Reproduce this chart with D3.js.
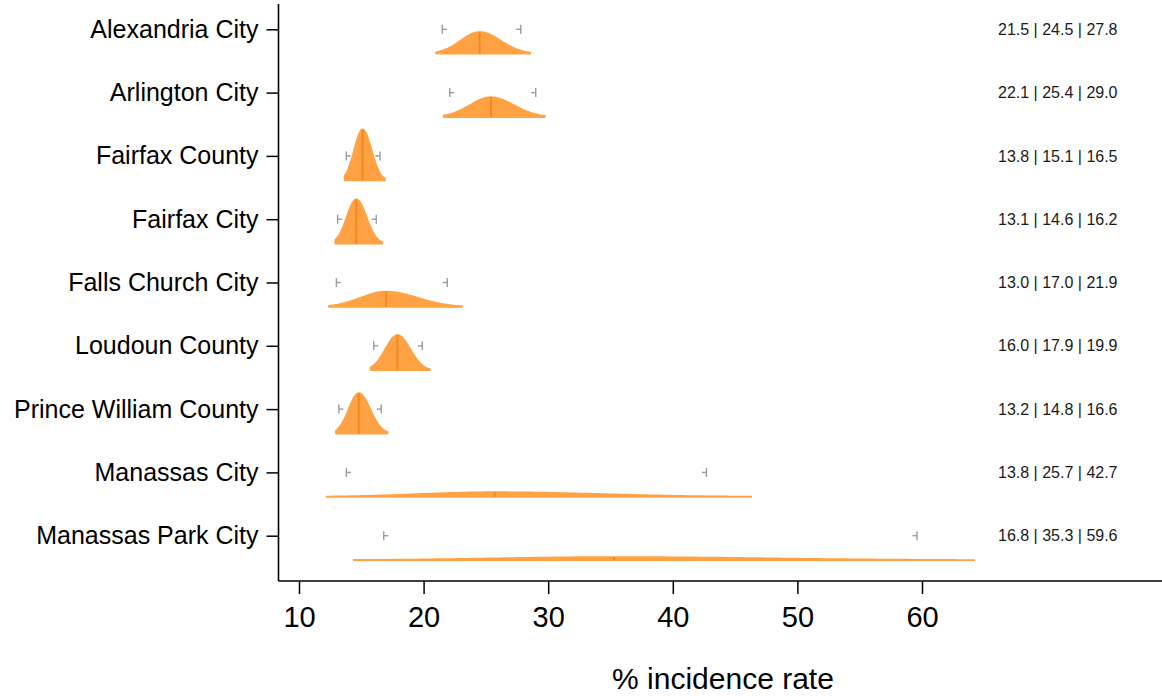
<!DOCTYPE html>
<html lang="en">
<head>
    <meta charset="UTF-8">
    <title>% incidence rate by locality</title>
    <style>
        body { margin: 0; background: #fff; }
        svg { font-family: Arial, "Liberation Sans", sans-serif; }
        .ylab text { font-size: 25px; fill: #000; }
        .xlab text { font-size: 29px; fill: #000; }
        .tick line { stroke: #000; stroke-width: 1.5px; }
    </style>
</head>
<body>
    <svg id="chart" width="1162" height="696"></svg>
    <script src="https://d3js.org/d3.v7.min.js"></script>
    <script>
        // values
        var localities = ["Alexandria City", "Arlington City", "Fairfax County", "Fairfax City",
                          "Falls Church City", "Loudoun County", "Prince William County",
                          "Manassas City", "Manassas Park City"];
        var lower  = [21.5, 22.1, 13.8, 13.1, 13.0, 16.0, 13.2, 13.8, 16.8];
        var median = [24.5, 25.4, 15.1, 14.6, 17.0, 17.9, 14.8, 25.7, 35.3];
        var upper  = [27.8, 29.0, 16.5, 16.2, 21.9, 19.9, 16.6, 42.7, 59.6];
        // extent of each density shape (min / max of the draws)
        var shapeMin = [21.0, 21.6, 13.65, 12.9, 12.4, 15.75, 12.95, 12.2, 14.4];
        var shapeMax = [28.55, 29.75, 16.9, 16.7, 23.1, 20.5, 17.1, 46.3, 64.2];
        var xTicks = [10, 20, 30, 40, 50, 60];

        var svg = d3.select("#chart");

        var x = d3.scaleLinear().domain([10, 60]).range([299, 922]);
        var y = d3.scalePoint().domain(localities).range([29.3, 535.7]);

        var axisX = 278.5, axisY = 581;
        var densScale = 88;   // px per unit of density
        var baseOff = 24.5;   // shape baseline below the category line

        // split normal built from the interval, shape of the posterior
        function dens(i, v) {
            var s1 = (median[i] - lower[i]) / 1.96,
                s2 = (upper[i] - median[i]) / 1.96;
            var s = v < median[i] ? s1 : s2;
            var z = (v - median[i]) / s;
            return 2 / ((s1 + s2) * Math.sqrt(2 * Math.PI)) * Math.exp(-0.5 * z * z);
        }

        var rows = localities.map(function(d, i) { return i; });

        var area = d3.area()
            .x(function(p) { return x(p.v); })
            .y0(function(p) { return p.base; })
            .y1(function(p) { return p.base - densScale * p.d; });

        var g = svg.append("g");

        rows.forEach(function(i) {
            var base = y(localities[i]) + baseOff;
            var pts = d3.range(0, 121).map(function(k) {
                var v = shapeMin[i] + (shapeMax[i] - shapeMin[i]) * k / 120;
                return { v: v, d: dens(i, v), base: base };
            });
            g.append("path")
                .attr("d", area(pts))
                .attr("fill", "#ffa243")
                .attr("stroke", "#ffa243")
                .attr("stroke-width", 1.6)
                .attr("stroke-linejoin", "round");

            // median line
            g.append("line")
                .attr("x1", x(median[i])).attr("x2", x(median[i]))
                .attr("y1", base)
                .attr("y2", base - densScale * dens(i, median[i]))
                .attr("stroke", "#f5861c")
                .attr("stroke-width", 1.8);

            // interval ends
            var cy = y(localities[i]);
            [[lower[i], 1], [upper[i], -1]].forEach(function(e) {
                var ex = x(e[0]);
                g.append("line")
                    .attr("x1", ex).attr("x2", ex)
                    .attr("y1", cy - 4.5).attr("y2", cy + 4.5)
                    .attr("stroke", "#9b9b9b").attr("stroke-width", 1.4);
                g.append("line")
                    .attr("x1", ex).attr("x2", ex + 4.5 * e[1])
                    .attr("y1", cy).attr("y2", cy)
                    .attr("stroke", "#9b9b9b").attr("stroke-width", 1.4);
            });

            // text on the right
            svg.append("text")
                .attr("x", 998)
                .attr("y", cy)
                .attr("dy", "0.35em")
                .style("font-size", "16px")
                .style("fill", "#1a1a1a")
                .text(lower[i].toFixed(1) + " | " + median[i].toFixed(1) + " | " + upper[i].toFixed(1));
        });

        // Y axis
        svg.append("g")
            .attr("class", "ylab")
            .attr("transform", "translate(" + axisX + ",0)")
            .call(d3.axisLeft(y).tickSize(12).tickPadding(8))
            .call(function(a) { a.select(".domain").remove(); });

        svg.append("line")
            .attr("x1", axisX).attr("x2", axisX)
            .attr("y1", 4).attr("y2", axisY)
            .attr("stroke", "#000").attr("stroke-width", 1.6);

        // X axis
        svg.append("g")
            .attr("class", "xlab")
            .attr("transform", "translate(0," + axisY + ")")
            .call(d3.axisBottom(x).tickValues(xTicks).tickFormat(d3.format("d"))
                    .tickSize(13).tickPadding(12))
            .call(function(a) { a.select(".domain").remove(); });

        svg.append("line")
            .attr("x1", axisX).attr("x2", 1162)
            .attr("y1", axisY).attr("y2", axisY)
            .attr("stroke", "#000").attr("stroke-width", 1.6);

        // Label for X Axis
        svg.append("text")
            .attr("x", 723)
            .attr("y", 689)
            .style("text-anchor", "middle")
            .style("font-size", "30px")
            .text("% incidence rate");
    </script>
</body>
</html>
